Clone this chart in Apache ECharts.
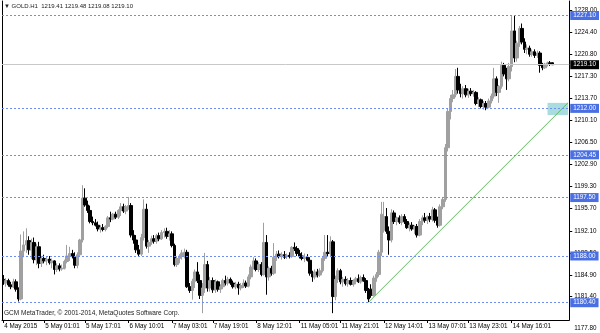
<!DOCTYPE html>
<html><head><meta charset="utf-8">
<script src="https://cdn.jsdelivr.net/npm/echarts@6/dist/echarts.min.js"></script>
<style>html,body{margin:0;padding:0;background:#fff}#c{width:600px;height:333px}</style>
</head><body><div id="c"></div>
<script>
// ---- data (GOLD.H1, hourly bars from 2015.05.04 09:00) ----
const open = [1184.2,1183.6,1184.0,1183.3,1183.0,1183.8,1182.6,1181.0,1188.8,1189.8,1190.5,1189.0,1190.2,1187.4,1189.5,1186.8,1187.6,1187.2,1187.5,1186.9,
1187.2,1185.8,1186.4,1185.9,1186.0,1187.1,1188.0,1188.4,1187.9,1186.5,1188.2,1190.6,1197.4,1196.3,1195.4,1193.6,1193.4,1193.0,1192.4,1192.6,
1192.3,1192.8,1194.2,1194.0,1194.8,1194.3,1195.4,1196.0,1195.3,1196.0,1196.2,1191.4,1190.6,1189.0,1188.3,1191.0,1195.6,1189.6,1190.2,1190.8,
1190.4,1191.3,1190.8,1191.8,1192.0,1191.2,1191.6,1189.7,1186.6,1187.6,1188.0,1188.5,1188.6,1183.0,1182.4,1183.9,1185.4,1184.0,1181.6,1182.8,
1186.6,1182.8,1184.0,1182.5,1183.8,1182.6,1183.0,1184.0,1183.6,1184.2,1183.6,1183.0,1183.4,1182.8,1183.2,1183.6,1183.1,1184.6,1186.2,1187.2,
1185.8,1186.6,1185.0,1190.2,1184.6,1186.0,1185.2,1187.8,1188.3,1187.9,1188.2,1187.9,1188.1,1187.9,1189.4,1189.2,1188.4,1188.0,1187.6,1187.8,
1187.3,1185.2,1184.6,1185.4,1184.9,1185.6,1187.6,1188.6,1188.4,1190.3,1181.4,1184.2,1185.6,1183.8,1184.2,1183.5,1184.0,1183.4,1183.9,1184.3,
1183.8,1184.5,1184.0,1182.4,1182.6,1181.6,1184.4,1185.0,1188.6,1192.2,1194.4,1192.0,1190.6,1195.0,1193.6,1194.2,1193.5,1194.4,1193.6,1192.6,
1193.0,1192.4,1192.8,1191.4,1193.6,1194.2,1193.8,1194.4,1194.0,1195.5,1193.8,1193.0,1196.0,1197.2,1205.6,1211.5,1213.6,1214.2,1217.2,1215.0,
1214.4,1215.2,1214.2,1214.8,1214.4,1214.6,1212.8,1213.4,1212.3,1212.8,1212.2,1213.2,1214.0,1216.8,1214.6,1215.6,1219.0,1217.6,1216.8,1218.8,
1224.6,1220.2,1222.6,1225.0,1222.8,1221.6,1221.8,1220.8,1221.2,1220.6,1221.0,1219.0,1218.6,1219.2,1219.4,1219.41];
const high = [1184.9,1184.4,1184.3,1183.8,1184.3,1184.2,1182.9,1191.5,1192.0,1192.5,1191.2,1190.8,1191.0,1190.0,1190.3,1188.0,1188.2,1187.9,1188.0,1187.6,
1187.3,1186.8,1186.8,1186.6,1187.4,1189.8,1189.5,1189.0,1188.6,1188.6,1190.8,1199.5,1199.0,1197.0,1196.2,1194.4,1194.0,1193.6,1193.0,1193.2,
1193.0,1194.5,1195.2,1195.0,1195.2,1195.6,1196.6,1196.5,1196.3,1197.6,1196.6,1192.2,1191.4,1189.8,1191.6,1197.2,1196.5,1190.6,1191.3,1191.4,
1191.6,1191.8,1192.2,1192.5,1192.6,1192.2,1192.0,1190.0,1188.0,1188.3,1189.0,1189.2,1189.0,1183.6,1184.3,1185.8,1187.0,1185.0,1183.6,1188.5,
1187.2,1184.6,1184.5,1184.2,1184.0,1183.4,1184.3,1184.8,1184.6,1184.5,1184.0,1183.8,1183.8,1183.6,1184.2,1184.0,1185.0,1186.6,1187.8,1187.6,
1187.0,1187.0,1193.4,1191.4,1186.3,1186.4,1190.1,1188.8,1188.9,1188.6,1188.8,1188.4,1188.6,1189.6,1190.2,1189.6,1189.0,1188.6,1188.4,1188.3,
1187.8,1185.6,1185.8,1185.9,1186.0,1188.0,1191.4,1191.4,1191.2,1190.6,1184.8,1186.0,1185.9,1184.6,1184.7,1184.4,1184.5,1184.2,1184.6,1185.0,
1184.8,1185.0,1184.4,1182.8,1183.4,1184.8,1185.4,1189.0,1196.8,1196.8,1195.8,1192.8,1195.6,1195.4,1194.4,1194.6,1194.8,1194.8,1194.0,1193.4,
1193.5,1193.0,1193.2,1194.0,1194.6,1195.0,1194.6,1195.0,1196.0,1195.8,1194.4,1196.4,1197.6,1206.2,1212.0,1214.2,1215.0,1218.4,1218.6,1216.0,
1215.6,1215.8,1215.2,1215.3,1215.0,1214.8,1213.8,1213.6,1213.2,1213.2,1213.6,1214.4,1218.6,1217.2,1215.8,1219.6,1219.4,1218.6,1219.4,1227.0,
1227.1,1223.0,1225.4,1225.8,1223.4,1222.4,1222.2,1221.6,1221.6,1221.4,1221.3,1219.4,1219.4,1219.6,1219.7,1219.48];
const low = [1183.3,1183.0,1183.0,1182.6,1182.8,1182.2,1180.6,1180.8,1187.8,1188.5,1188.2,1187.5,1186.8,1186.5,1186.0,1186.2,1186.8,1186.5,1186.6,1186.0,
1185.0,1185.4,1185.5,1185.6,1185.8,1186.8,1187.2,1187.6,1186.0,1186.0,1188.0,1190.2,1196.0,1195.0,1193.3,1193.0,1192.8,1192.0,1191.8,1192.0,
1192.0,1192.5,1193.5,1193.8,1194.0,1194.0,1194.5,1195.0,1194.8,1195.5,1191.0,1190.0,1188.5,1188.0,1188.0,1190.5,1189.2,1188.5,1189.8,1190.0,
1190.0,1190.4,1190.6,1191.0,1190.8,1190.5,1189.4,1186.3,1186.2,1186.8,1187.4,1187.6,1182.8,1182.0,1180.9,1182.8,1183.6,1181.0,1178.7,1182.0,
1182.2,1182.2,1182.0,1182.0,1182.2,1182.0,1182.6,1183.2,1183.2,1183.3,1182.7,1182.6,1181.7,1182.4,1182.8,1182.8,1182.9,1184.2,1185.8,1185.5,
1185.4,1184.7,1184.8,1181.7,1184.0,1184.8,1184.9,1187.2,1187.6,1187.4,1187.5,1187.5,1187.6,1187.7,1188.8,1188.0,1187.6,1187.3,1187.0,1187.1,
1184.8,1183.8,1184.2,1184.5,1184.6,1185.3,1187.2,1188.0,1188.0,1178.7,1180.8,1183.6,1183.4,1183.0,1183.2,1183.0,1183.2,1183.0,1183.4,1183.6,
1183.5,1183.8,1182.0,1180.5,1181.2,1181.4,1183.8,1184.6,1188.0,1191.8,1191.6,1188.2,1190.2,1193.2,1193.0,1193.2,1193.0,1193.2,1192.4,1192.0,
1192.1,1191.6,1191.0,1191.2,1193.0,1193.4,1193.2,1193.5,1193.6,1193.4,1192.6,1192.8,1195.6,1196.8,1205.0,1210.2,1213.0,1213.8,1214.4,1213.8,
1213.6,1213.8,1213.7,1214.0,1213.9,1212.5,1212.2,1212.0,1211.8,1211.7,1212.0,1212.8,1213.6,1214.0,1212.9,1215.2,1217.2,1215.0,1216.4,1218.0,
1219.5,1219.6,1222.0,1222.4,1221.0,1220.8,1220.4,1220.4,1220.2,1220.2,1217.8,1218.2,1218.4,1218.8,1218.9,1219.08];
const close = [1183.6,1184.0,1183.3,1183.0,1183.8,1182.6,1181.0,1188.8,1189.8,1190.5,1189.0,1190.2,1187.4,1189.5,1186.8,1187.6,1187.2,1187.5,1186.9,1187.2,
1185.8,1186.4,1185.9,1186.0,1187.1,1188.0,1188.4,1187.9,1186.5,1188.2,1190.6,1197.4,1196.3,1195.4,1193.6,1193.4,1193.0,1192.4,1192.6,1192.3,
1192.8,1194.2,1194.0,1194.8,1194.3,1195.4,1196.0,1195.3,1196.0,1196.2,1191.4,1190.6,1189.0,1188.3,1191.0,1195.6,1189.6,1190.2,1190.8,1190.4,
1191.3,1190.8,1191.8,1192.0,1191.2,1191.6,1189.7,1186.6,1187.6,1188.0,1188.5,1188.6,1183.0,1182.4,1183.9,1185.4,1184.0,1181.6,1182.8,1186.6,
1182.8,1184.0,1182.5,1183.8,1182.6,1183.0,1184.0,1183.6,1184.2,1183.6,1183.0,1183.4,1182.8,1183.2,1183.6,1183.1,1184.6,1186.2,1187.2,1185.8,
1186.6,1185.0,1190.2,1184.6,1186.0,1185.2,1187.8,1188.3,1187.9,1188.2,1187.8,1188.1,1187.9,1189.4,1189.2,1188.4,1188.0,1187.6,1187.8,1187.3,
1185.2,1184.6,1185.4,1184.9,1185.6,1187.6,1188.6,1188.4,1190.3,1181.4,1184.2,1185.6,1183.8,1184.2,1183.5,1184.0,1183.4,1183.9,1184.3,1183.8,
1184.5,1184.0,1182.4,1181.0,1181.6,1184.4,1185.0,1188.6,1194.8,1194.4,1192.0,1190.6,1195.0,1193.6,1194.2,1193.5,1194.4,1193.6,1192.6,1193.0,
1192.4,1192.8,1191.4,1193.6,1194.2,1193.8,1194.4,1194.0,1195.5,1193.8,1193.0,1196.0,1197.2,1205.6,1211.5,1213.6,1214.2,1217.2,1215.0,1214.4,
1215.2,1214.2,1214.8,1214.4,1214.6,1212.8,1213.4,1212.3,1212.8,1212.2,1213.2,1214.0,1216.8,1214.6,1215.6,1219.0,1217.6,1216.8,1218.8,1224.6,
1220.2,1222.6,1225.0,1222.8,1221.6,1221.8,1220.8,1221.2,1220.6,1221.0,1219.0,1218.6,1219.2,1219.4,1219.3,1219.10];

// horizontal price levels and current price
const levelPrices = [1227.10, 1212.00, 1204.45, 1197.50, 1188.00, 1180.40];
const currentPrice = 1219.10;
// price-scale tick labels
const yTicks = [1228.00,1224.40,1220.80,1217.30,1213.70,1210.10,1206.50,1202.90,1199.30,1195.70,1192.10,1188.50,1184.90,1181.40,1177.80];
// time-scale tick labels
const xLabelAt = ['2015.05.04 09:00','2015.05.05 01:00','2015.05.05 17:00','2015.05.06 10:00','2015.05.07 03:00','2015.05.07 19:00','2015.05.08 12:00',
  '2015.05.11 05:00','2015.05.11 21:00','2015.05.12 14:00','2015.05.13 07:00','2015.05.13 23:00','2015.05.14 16:00'];
const xLabelText = ['4 May 2015','5 May 01:01','5 May 17:01','6 May 10:01','7 May 03:01','7 May 19:01','8 May 12:01',
  '11 May 05:01','11 May 21:01','12 May 14:01','13 May 07:01','13 May 23:01','14 May 16:01'];
// trend line anchors [time, price]
const trendTimes = ['2015.05.12 08:00','2015.05.15 14:00'];
const trendPrices = [1180.5, 1212.9];
// highlighted zone
const zoneTimes = ['2015.05.15 06:00','2015.05.15 14:00'];
const zonePrices = [1212.9, 1210.9];
const emptyBarsRight = 6;

// ---- build hourly categories (weekend skipped) ----
const pad = n => (n < 10 ? '0' : '') + n;
const categories = [];
let t = Date.UTC(2015, 4, 4, 9);
const total = open.length + emptyBarsRight;
while (categories.length < total) {
  const d = new Date(t);
  const wd = d.getUTCDay();
  if (wd !== 0 && wd !== 6) {
    categories.push(d.getUTCFullYear() + '.' + pad(d.getUTCMonth() + 1) + '.' + pad(d.getUTCDate()) + ' ' + pad(d.getUTCHours()) + ':00');
  }
  t += 3600000;
}
const candleData = open.map((o, i) => [o, close[i], low[i], high[i]]);
const yMin = yTicks[yTicks.length - 1];

const FONT = 'Liberation Sans';
const chart = echarts.init(document.getElementById('c'), null, {renderer: 'canvas'});
const blueLabel = {show: true, position: 'end', distance: 1, formatter: p => p.value.toFixed(2),
  backgroundColor: '#4a6fe3', color: '#fff', fontFamily: FONT, fontSize: 6.3, padding: [2, 3, 1, 3]};

chart.setOption({
  animation: false,
  backgroundColor: '#fff',
  grid: {left: 2, right: 29, top: 1, bottom: 13, show: false},
  xAxis: {
    type: 'category', data: categories, boundaryGap: true,
    axisLine: {show: true, lineStyle: {color: '#000'}},
    axisTick: {show: true, alignWithLabel: true, length: 3, lineStyle: {color: '#000'},
      interval: (i, v) => xLabelAt.indexOf(v) >= 0},
    axisLabel: {show: true, interval: (i, v) => xLabelAt.indexOf(v) >= 0,
      formatter: v => xLabelText[xLabelAt.indexOf(v)] || '',
      align: 'left', margin: 3, padding: [0, 0, 0, 1], color: '#000', fontFamily: FONT, fontSize: 6.3},
    splitLine: {show: false}
  },
  yAxis: [{
    type: 'value', position: 'right', min: 1177.59, max: 1229.46, scale: true,
    axisLine: {show: true, lineStyle: {color: '#000'}},
    axisTick: {show: true, length: 3, customValues: yTicks.slice(0, -1), lineStyle: {color: '#000'}},
    axisLabel: {show: true, customValues: yTicks,
      formatter: v => (v === yMin ? '{low|' + v.toFixed(2) + '}' : v.toFixed(2)),
      rich: {low: {padding: [20, 0, 0, 0], fontFamily: FONT, fontSize: 6.3, color: '#000'}},
      margin: 5, color: '#000', fontFamily: FONT, fontSize: 6.3},
    splitLine: {show: false}
  }, {
    type: 'value', position: 'left', min: 1177.59, max: 1229.46,
    axisLine: {show: true, lineStyle: {color: '#000'}},
    axisTick: {show: false}, axisLabel: {show: false}, splitLine: {show: false}
  }],
  series: [
    {
      type: 'candlestick', data: candleData, barWidth: 3,
      itemStyle: {color: '#a0a0a0', color0: '#000', borderColor: '#a0a0a0', borderColor0: '#000', borderWidth: 1},
      markArea: {silent: true, itemStyle: {color: '#a9dcdf'},
        data: [[{xAxis: zoneTimes[0], yAxis: zonePrices[0]}, {xAxis: zoneTimes[1], yAxis: zonePrices[1]}]]},
      markLine: {
        silent: true, symbol: ['none', 'none'], animation: false,
        data: levelPrices.map(p => ({yAxis: p, lineStyle: {color: '#6f8ff0', type: [2, 2], width: 1}, label: blueLabel}))
          .concat([{yAxis: currentPrice, lineStyle: {color: '#c8c8c8', type: 'solid', width: 1},
            label: Object.assign({}, blueLabel, {backgroundColor: '#000'})}])
      }
    },
    {
      type: 'line', data: trendTimes.map((tt, i) => [tt, trendPrices[i]]), symbol: 'none',
      lineStyle: {color: '#5cbf5c', width: 1}, silent: true, z: 3
    }
  ],
  graphic: [
    {type: 'text', left: 4, top: 3, style: {text: '\u25BC GOLD.H1  1219.41 1219.48 1219.08 1219.10', fill: '#222', font: '6px "Liberation Sans"'}},
    {type: 'text', left: 4, top: 310, style: {text: 'GCM MetaTrader, \u00A9 2001-2014, MetaQuotes Software Corp.', fill: '#222', font: '6.5px "Liberation Sans"'}}
  ]
});
</script></body></html>
